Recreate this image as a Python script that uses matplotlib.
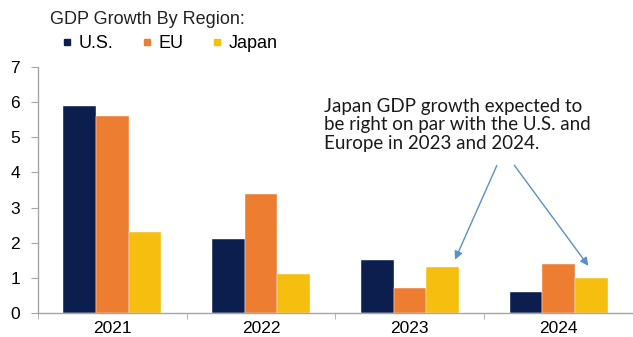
import matplotlib.pyplot as plt
import numpy as np
from matplotlib.lines import Line2D

# data
years = ['2021', '2022', '2023', '2024']
us = [5.9, 2.1, 1.5, 0.6]
eu = [5.6, 3.4, 0.7, 1.4]
japan = [2.3, 1.1, 1.3, 1.0]
series_names = ['U.S.', 'EU', 'Japan']
colors = ['#0B1E4E', '#ED7D31', '#F6BE0F']

plt.rcParams['font.family'] = ['Liberation Sans', 'DejaVu Sans']

fig = plt.figure(figsize=(6.33, 3.37), dpi=100)
ax = fig.add_axes([0.060, 0.071, 0.94, 0.730])

x = np.arange(len(years))
w = 0.22
for vals, off, c in zip([us, eu, japan], [-w, 0, w], colors):
    ax.bar(x + off, vals, width=w, color=c, edgecolor='white', linewidth=0.3)

ax.set_ylim(0, 7)
ax.set_yticks(range(0, 8))
ax.set_xlim(-0.5, 3.414)
ax.set_xticks(x)
ax.set_xticklabels(years)
ax.set_xticks(np.arange(-0.5, 4, 1), minor=True)

for s in ['top', 'right']:
    ax.spines[s].set_visible(False)
for s in ['left', 'bottom']:
    ax.spines[s].set_color('#A6A6A6')
    ax.spines[s].set_linewidth(1.0)

ax.tick_params(axis='y', labelsize=12.5, color='#A6A6A6', length=5, pad=8)
ax.tick_params(axis='x', which='major', length=0, labelsize=12.5, pad=6)
ax.tick_params(axis='x', which='minor', length=4, color='#A6A6A6')

# title + legend
fig.text(50 / 633, 1 - 20 / 337, 'GDP Growth By Region:', fontsize=13,
         va='center', ha='left', color='#222222')
handles = [Line2D([0], [0], marker='s', linestyle='', markersize=5,
                  markerfacecolor=c, markeredgecolor=c) for c in colors]
fig.legend(handles, series_names, loc='center left',
           bbox_to_anchor=(62 / 633, 1 - 44 / 337), ncol=3, frameon=False,
           fontsize=13, handlelength=0.6, handletextpad=0.3,
           columnspacing=1.6, borderaxespad=0, borderpad=0)

# annotation
ax.text(1.425, 6.12, 'Japan GDP growth expected to\nbe right on par with the U.S. and\nEurope in 2023 and 2024.',
        fontsize=13.5, family=['Lato', 'DejaVu Sans'], va='top', ha='left',
        color='#1a1a1a', linespacing=1.1)
arrow_kw = dict(arrowstyle='-|>', color='#5B8FCB', lw=1.0, mutation_scale=12)
ax.annotate('', xy=(2.296, 1.45), xytext=(2.592, 4.27), arrowprops=arrow_kw)
ax.annotate('', xy=(3.211, 1.28), xytext=(2.691, 4.27), arrowprops=arrow_kw)

plt.savefig('out.png', dpi=100)
